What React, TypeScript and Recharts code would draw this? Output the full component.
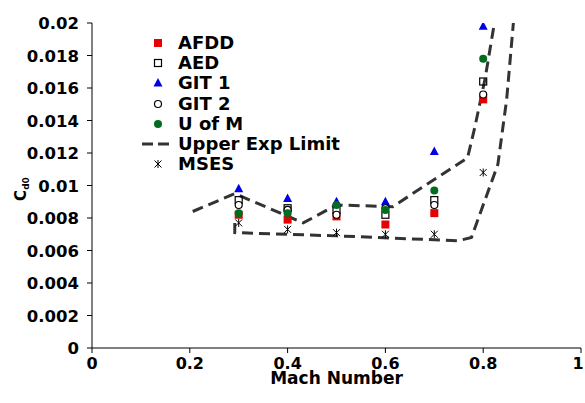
import React from "react";
import {
  ComposedChart,
  Line,
  Scatter,
  XAxis,
  YAxis,
} from "recharts";

// Mach numbers of the test points
const mach = [0.3, 0.4, 0.5, 0.6, 0.7, 0.8];

// Cd0 per source
const afdd = [0.0082, 0.0079, 0.0081, 0.0076, 0.0083, 0.0153];
const aed = [0.0091, 0.0086, 0.0085, 0.0082, 0.0091, 0.0164];
const git1 = [0.0098, 0.0092, 0.009, 0.009, 0.0121, 0.0198];
const git2 = [0.0088, 0.0085, 0.0082, 0.0086, 0.0088, 0.0156];
const uofm = [0.0083, 0.0083, 0.0088, 0.0085, 0.0097, 0.0178];
const mses = [0.0077, 0.0073, 0.0071, 0.007, 0.007, 0.0108];

// experimental envelope (two dashed curves)
const upperMach = [0.206, 0.292, 0.432, 0.5, 0.615, 0.768, 0.783, 0.804, 0.824];
const upperCd = [0.0084, 0.0095, 0.0077, 0.0088, 0.0087, 0.0117, 0.0136, 0.0166, 0.0202];
const lowerMach = [0.292, 0.292, 0.5, 0.749, 0.776, 0.83, 0.848, 0.862];
const lowerCd = [0.0077, 0.0071, 0.0069, 0.0066, 0.0068, 0.0113, 0.0153, 0.0201];

const xTicks = [0, 0.2, 0.4, 0.6, 0.8, 1];
const yTicks = [0, 0.002, 0.004, 0.006, 0.008, 0.01, 0.012, 0.014, 0.016, 0.018, 0.02];

const FONT = "'DejaVu Sans', Verdana, sans-serif";
const RED = "#e60000";
const BLUE = "#0000e6";
const GREEN = "#006d1f";
const DASH = "#333333";

const toPoints = (xs: number[], ys: number[]) => xs.map((x, i) => ({ x, y: ys[i] }));

const redSquare = ({ cx, cy }: any) => (
  <rect x={cx - 4} y={cy - 4} width={8} height={8} fill={RED} />
);
const openSquare = ({ cx, cy }: any) => (
  <rect x={cx - 3.5} y={cy - 3.5} width={7} height={7} fill="none" stroke="#000" strokeWidth={1.2} />
);
const blueTriangle = ({ cx, cy }: any) => (
  <polygon points={`${cx},${cy - 5} ${cx + 4.5},${cy + 3.5} ${cx - 4.5},${cy + 3.5}`} fill={BLUE} />
);
const openCircle = ({ cx, cy }: any) => (
  <circle cx={cx} cy={cy} r={3.5} fill="#fff" stroke="#000" strokeWidth={1.2} />
);
const greenDot = ({ cx, cy }: any) => <circle cx={cx} cy={cy} r={4} fill={GREEN} />;
const star = ({ cx, cy }: any) => (
  <g stroke="#000" strokeWidth={1}>
    <line x1={cx - 3.5} y1={cy - 3.5} x2={cx + 3.5} y2={cy + 3.5} />
    <line x1={cx - 3.5} y1={cy + 3.5} x2={cx + 3.5} y2={cy - 3.5} />
    <line x1={cx} y1={cy - 4} x2={cx} y2={cy + 4} />
  </g>
);

const legendItems = [
  { name: "AFDD", shape: redSquare },
  { name: "AED", shape: openSquare },
  { name: "GIT 1", shape: blueTriangle },
  { name: "GIT 2", shape: openCircle },
  { name: "U of M", shape: greenDot },
  { name: "Upper Exp Limit", shape: null },
  { name: "MSES", shape: star },
];

const fmt = (v: number) => String(parseFloat(v.toFixed(3)));

const ChartLegend = () => (
  <div style={{ position: "absolute", left: 140, top: 33, fontFamily: FONT, fontWeight: "bold" }}>
    {legendItems.map((it) => (
      <div key={it.name} style={{ display: "flex", alignItems: "center", height: 20.2 }}>
        <svg width={38} height={20}>
          {it.shape ? (
            it.shape({ cx: 18, cy: 10 })
          ) : (
            <line x1={2} y1={10} x2={34} y2={10} stroke={DASH} strokeWidth={3} strokeDasharray="11 5" />
          )}
        </svg>
        <span style={{ fontSize: 18, lineHeight: "20px", color: "#000" }}>{it.name}</span>
      </div>
    ))}
  </div>
);

// last label sits on the window edge, nudge it in a little like the original
const XTick = ({ x, y, payload }: any) => (
  <text
    x={x > 575 ? x - 3 : x}
    y={y}
    dy={11}
    textAnchor="middle"
    fontFamily={FONT}
    fontWeight="bold"
    fontSize={16}
    fill="#000"
  >
    {fmt(payload.value)}
  </text>
);

const YTick = ({ x, y, payload }: any) => (
  <text x={x} y={y} dy={6} textAnchor="end" fontFamily={FONT} fontWeight="bold" fontSize={16.5} fill="#000">
    {fmt(payload.value)}
  </text>
);

const YLabel = () => {
  const cx = 26;
  const cy = 189;
  return (
    <text
      x={cx}
      y={cy}
      transform={`rotate(-90 ${cx} ${cy})`}
      textAnchor="middle"
      fontFamily={FONT}
      fontWeight="bold"
      fontSize={15}
      fill="#000"
    >
      C
      <tspan fontSize={9} dy={3}>d0</tspan>
    </text>
  );
};

const XLabel = () => (
  <text x={336.5} y={384} textAnchor="middle" fontFamily={FONT} fontWeight="bold" fontSize={17} fill="#000">
    Mach Number
  </text>
);

export default function App() {
  return (
    <div style={{ position: "absolute", left: 0, top: 0, width: 585, height: 403, background: "#fff" }}>
      <ComposedChart width={585} height={403} margin={{ top: 23, right: 4, bottom: 0, left: 0 }}>
        <XAxis
          type="number"
          dataKey="x"
          domain={[0, 1]}
          ticks={xTicks}
          tick={<XTick />}
          tickSize={5}
          tickMargin={5}
          height={55}
          stroke="#000"
          interval={0}
          allowDataOverflow
          label={<XLabel />}
        />
        <YAxis
          type="number"
          dataKey="y"
          domain={[0, 0.02]}
          ticks={yTicks}
          tick={<YTick />}
          tickSize={5}
          tickMargin={8}
          width={92}
          stroke="#000"
          interval={0}
          allowDataOverflow
          label={<YLabel />}
        />
        <Line
          data={toPoints(upperMach, upperCd)}
          dataKey="y"
          type="linear"
          stroke={DASH}
          strokeWidth={3}
          strokeDasharray="11 6"
          dot={false}
          isAnimationActive={false}
        />
        <Line
          data={toPoints(lowerMach, lowerCd)}
          dataKey="y"
          type="linear"
          stroke={DASH}
          strokeWidth={3}
          strokeDasharray="11 6"
          dot={false}
          isAnimationActive={false}
        />
        <Scatter data={toPoints(mach, afdd)} shape={redSquare} isAnimationActive={false} />
        <Scatter data={toPoints(mach, aed)} shape={openSquare} isAnimationActive={false} />
        <Scatter data={toPoints(mach, git1)} shape={blueTriangle} isAnimationActive={false} />
        <Scatter data={toPoints(mach, git2)} shape={openCircle} isAnimationActive={false} />
        <Scatter data={toPoints(mach, uofm)} shape={greenDot} isAnimationActive={false} />
        <Scatter data={toPoints(mach, mses)} shape={star} isAnimationActive={false} />
      </ComposedChart>
      <ChartLegend />
    </div>
  );
}
